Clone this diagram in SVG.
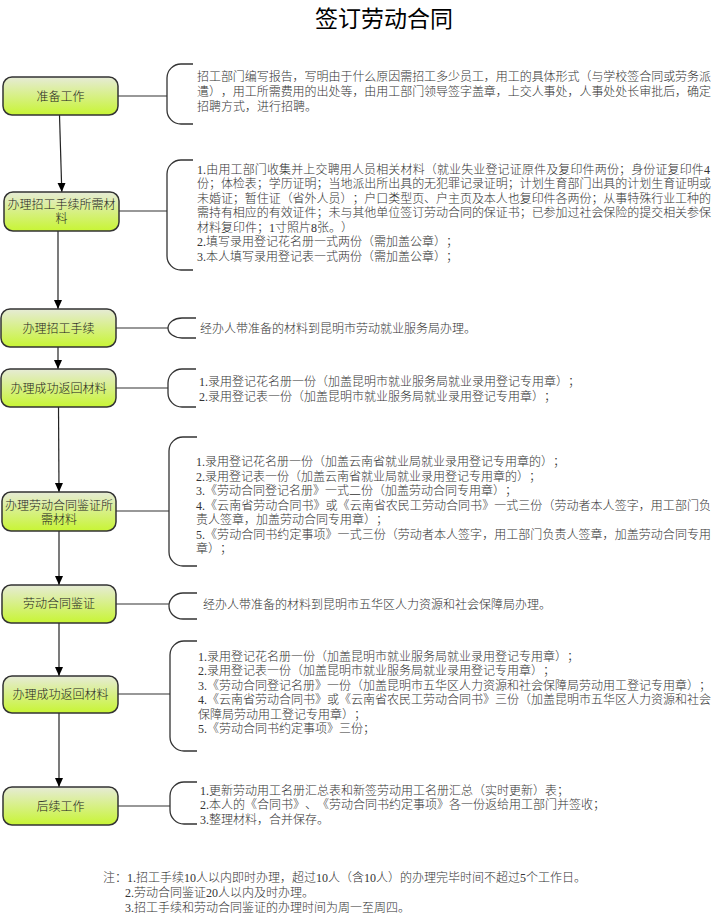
<svg xmlns="http://www.w3.org/2000/svg" width="714" height="916" viewBox="0 0 714 916">
<defs>
<linearGradient id="g" x1="0" y1="0" x2="0" y2="1">
<stop offset="0" stop-color="#e6ebd6"/>
<stop offset="1" stop-color="#c8f534"/>
</linearGradient>
<marker id="ah" markerWidth="10" markerHeight="10" refX="9" refY="5" orient="auto" markerUnits="userSpaceOnUse">
<path d="M0,1 L9,5 L0,9 Z" fill="#000"/>
</marker>
<style>
.n{fill:url(#g);stroke:#333;stroke-width:1.5}
.nt{font-family:"Liberation Serif","Noto Sans CJK SC",serif;font-size:12px;font-weight:300;fill:#222;text-anchor:middle;text-spacing-trim:space-all}
.t{font-family:"Liberation Serif","Noto Sans CJK SC",serif;font-size:12px;font-weight:300;fill:#333;text-spacing-trim:space-all}
.br{fill:none;stroke:#333;stroke-width:1.3}
.c{fill:none;stroke:#333;stroke-width:1.2}
.a{fill:none;stroke:#222;stroke-width:1.2;marker-end:url(#ah)}
</style>
</defs>
<rect width="714" height="916" fill="#fff"/>
<text x="384" y="27" font-family="'Liberation Serif','Noto Sans CJK SC',serif" font-size="23" fill="#000" text-anchor="middle">签订劳动合同</text>

<g id="connectors">
<path class="a" d="M59.5,115 L61.8,192"/>
<path class="a" d="M58,231 L58,309"/>
<path class="a" d="M58,347 L58,369"/>
<path class="a" d="M58.5,407 L59,492"/>
<path class="a" d="M59,531 L59,585"/>
<path class="a" d="M59,623 L59,676"/>
<path class="a" d="M59,713 L59,787"/>
<path class="c" d="M118,96 H167"/>
<path class="c" d="M119,211 H167"/>
<path class="c" d="M116,328 H168"/>
<path class="c" d="M116,388 H168"/>
<path class="c" d="M116,511 H169"/>
<path class="c" d="M116,604 H169"/>
<path class="c" d="M118,694 H170"/>
<path class="c" d="M118,806 H170"/>
</g>

<g id="n1"><rect class="n" x="3" y="77" width="115" height="38" rx="9"/><text class="nt" x="60.5" y="100.5">准备工作</text></g>
<g id="n2"><rect class="n" x="4" y="192" width="115" height="39" rx="9"/><text class="nt" x="61.5" y="208.5">办理招工手续所需材</text><text class="nt" x="61.5" y="222.5">料</text></g>
<g id="n3"><rect class="n" x="1" y="309" width="115" height="38" rx="9"/><text class="nt" x="58.5" y="332.5">办理招工手续</text></g>
<g id="n4"><rect class="n" x="1" y="369" width="115" height="38" rx="9"/><text class="nt" x="58.5" y="392.5">办理成功返回材料</text></g>
<g id="n5"><rect class="n" x="2" y="492" width="114" height="39" rx="9"/><text class="nt" x="59" y="509.5">办理劳动合同鉴证所</text><text class="nt" x="59" y="523.5">需材料</text></g>
<g id="n6"><rect class="n" x="2" y="585" width="114" height="38" rx="9"/><text class="nt" x="59" y="607.5">劳动合同鉴证</text></g>
<g id="n7"><rect class="n" x="3" y="676" width="115" height="37" rx="9"/><text class="nt" x="60.5" y="698.5">办理成功返回材料</text></g>
<g id="n8"><rect class="n" x="3" y="787" width="115" height="38" rx="9"/><text class="nt" x="60.5" y="810.5">后续工作</text></g>

<g id="b1">
<path class="br" d="M193,64 H181 A14,14 0 0 0 167,78 V110 A14,14 0 0 0 181,124 H193"/>
<text class="t" x="197" y="80.5" textLength="514" lengthAdjust="spacing">招工部门编写报告，写明由于什么原因需招工多少员工，用工的具体形式（与学校签合同或劳务派</text>
<text class="t" x="197" y="95.5" textLength="514" lengthAdjust="spacing">遣），用工所需费用的出处等，由用工部门领导签字盖章，上交人事处，人事处处长审批后，确定</text>
<text class="t" x="197" y="110.5">招聘方式，进行招聘。</text>
</g>
<g id="b2">
<path class="br" d="M193,160 H181 A14,14 0 0 0 167,174 V256 A14,14 0 0 0 181,270 H193"/>
<text class="t" x="197" y="173.5" textLength="513" lengthAdjust="spacing">1.由用工部门收集并上交聘用人员相关材料（就业失业登记证原件及复印件两份；身份证复印件4</text>
<text class="t" x="197" y="188" textLength="514" lengthAdjust="spacing">份；体检表；学历证明；当地派出所出具的无犯罪记录证明；计划生育部门出具的计划生育证明或</text>
<text class="t" x="197" y="202.5" textLength="514" lengthAdjust="spacing">未婚证；暂住证（省外人员）；户口类型页、户主页及本人也复印件各两份；从事特殊行业工种的</text>
<text class="t" x="197" y="217" textLength="514" lengthAdjust="spacing">需持有相应的有效证件；未与其他单位签订劳动合同的保证书；已参加过社会保险的提交相关参保</text>
<text class="t" x="197" y="231.5">材料复印件；1寸照片8张。）</text>
<text class="t" x="197" y="246">2.填写录用登记花名册一式两份（需加盖公章）；</text>
<text class="t" x="197" y="260.5">3.本人填写录用登记表一式两份（需加盖公章）；</text>
</g>
<g id="b3">
<path class="br" d="M196,318 H182 A14,10 0 0 0 168,328 A14,10 0 0 0 182,338 H196"/>
<text class="t" x="200" y="332.5">经办人带准备的材料到昆明市劳动就业服务局办理。</text>
</g>
<g id="b4">
<path class="br" d="M196,369 H182 A14,14 0 0 0 168,383 V393 A14,14 0 0 0 182,407 H196"/>
<text class="t" x="199" y="385.5">1.录用登记花名册一份（加盖昆明市就业服务局就业录用登记专用章）；</text>
<text class="t" x="199" y="400.5">2.录用登记表一份（加盖昆明市就业服务局就业录用登记专用章）；</text>
</g>
<g id="b5">
<path class="br" d="M197,437 H183 A14,14 0 0 0 169,451 V552 A14,14 0 0 0 183,566 H197"/>
<text class="t" x="196" y="466">1.录用登记花名册一份（加盖云南省就业局就业录用登记专用章的）；</text>
<text class="t" x="196" y="480.5">2.录用登记表一份（加盖云南省就业局就业录用登记专用章的）；</text>
<text class="t" x="196" y="495">3.《劳动合同登记名册》一式二份（加盖劳动合同专用章）；</text>
<text class="t" x="196" y="509.5" textLength="515" lengthAdjust="spacing">4.《云南省劳动合同书》或《云南省农民工劳动合同书》一式三份（劳动者本人签字，用工部门负</text>
<text class="t" x="196" y="524">责人签章，加盖劳动合同专用章）；</text>
<text class="t" x="196" y="538.5" textLength="515" lengthAdjust="spacing">5.《劳动合同书约定事项》一式三份（劳动者本人签字，用工部门负责人签章，加盖劳动合同专用</text>
<text class="t" x="196" y="553">章）；</text>
</g>
<g id="b6">
<path class="br" d="M197,593 H183 A14,13 0 0 0 169,606 A14,13 0 0 0 183,619 H197"/>
<text class="t" x="203" y="608.5">经办人带准备的材料到昆明市五华区人力资源和社会保障局办理。</text>
</g>
<g id="b7">
<path class="br" d="M197,641 H184 A14,14 0 0 0 170,655 V737 A14,14 0 0 0 184,751 H197"/>
<text class="t" x="198" y="660.5">1.录用登记花名册一份（加盖昆明市就业服务局就业录用登记专用章）；</text>
<text class="t" x="198" y="675">2.录用登记表一份（加盖昆明市就业服务局就业录用登记专用章）；</text>
<text class="t" x="198" y="689.5">3.《劳动合同登记名册》一份（加盖昆明市五华区人力资源和社会保障局劳动用工登记专用章）；</text>
<text class="t" x="198" y="704" textLength="513" lengthAdjust="spacing">4.《云南省劳动合同书》或《云南省农民工劳动合同书》三份（加盖昆明市五华区人力资源和社会</text>
<text class="t" x="198" y="718.5">保障局劳动用工登记专用章）；</text>
<text class="t" x="198" y="733">5.《劳动合同书约定事项》三份；</text>
</g>
<g id="b8">
<path class="br" d="M197,782 H184 A14,14 0 0 0 170,796 V810 A14,14 0 0 0 184,824 H197"/>
<text class="t" x="200" y="794.5">1.更新劳动用工名册汇总表和新签劳动用工名册汇总（实时更新）表；</text>
<text class="t" x="200" y="809">2.本人的《合同书》、《劳动合同书约定事项》各一份返给用工部门并签收；</text>
<text class="t" x="200" y="823.5">3.整理材料，合并保存。</text>
</g>
<g id="notes">
<text class="t" x="103" y="881.5">注：1.招工手续10人以内即时办理，超过10人（含10人）的办理完毕时间不超过5个工作日。</text>
<text class="t" x="125" y="896.5">2.劳动合同鉴证20人以内及时办理。</text>
<text class="t" x="125" y="911.5">3.招工手续和劳动合同鉴证的办理时间为周一至周四。</text>
</g>
</svg>
